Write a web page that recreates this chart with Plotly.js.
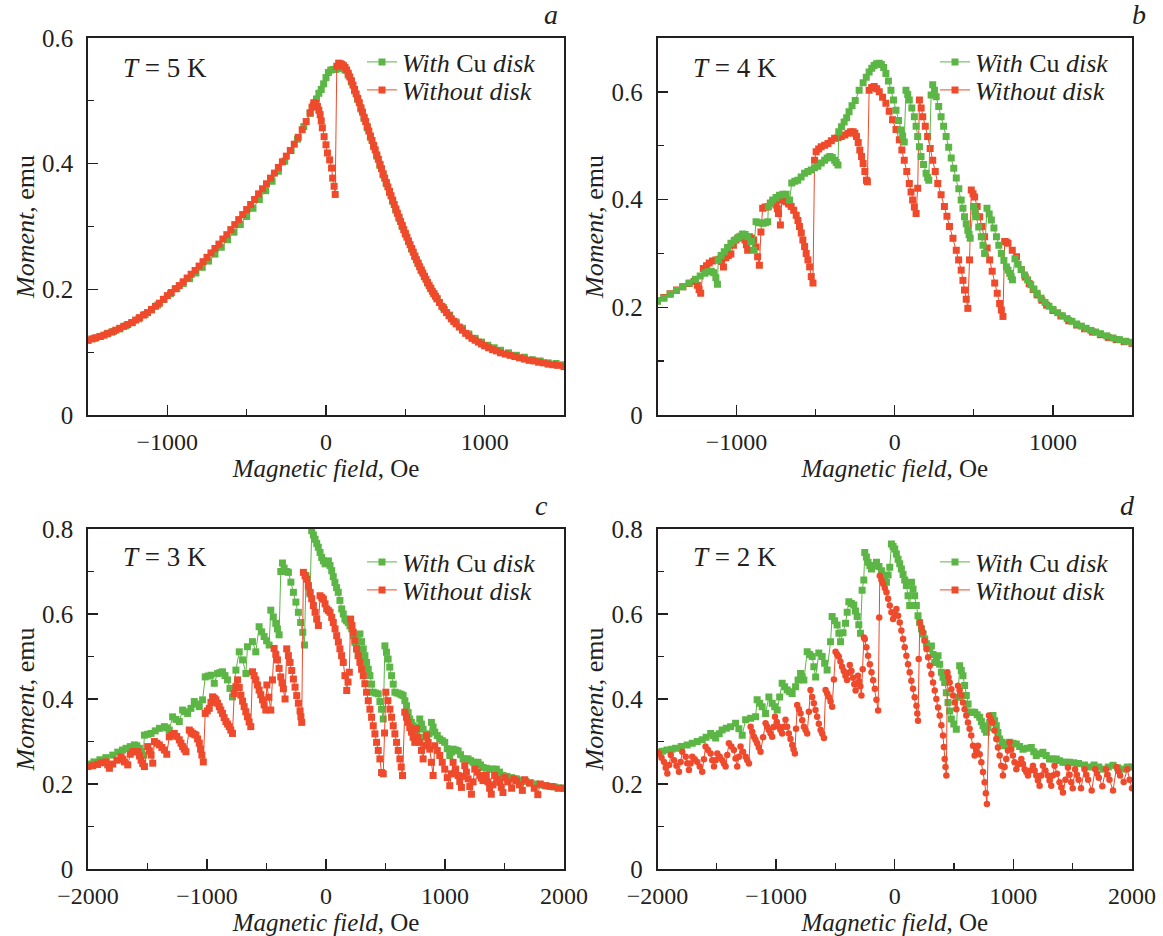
<!DOCTYPE html>
<html><head><meta charset="utf-8">
<script src="https://cdn.plot.ly/plotly-3.0.1.min.js"></script>
<style>html,body{margin:0;padding:0;background:#fff}#chart{width:1163px;height:936px}</style>
</head><body><div id="chart"></div>
<script>
// ---------- Panel a : T = 5 K ----------
const aGreen = [[-1500,.119],[-1460,.122],[-1420,.125],[-1380,.129],[-1340,.133],[-1300,.137],[-1260,.142],[-1220,.147],[-1180,.153],[-1140,.160],[-1100,.167],[-1060,.175],[-1020,.184],[-980,.193],[-940,.201],[-900,.209],[-860,.217],[-820,.226],[-780,.235],[-740,.245],[-700,.256],[-660,.267],[-620,.279],[-580,.291],[-540,.303],[-500,.316],[-460,.329],[-420,.343],[-380,.357],[-340,.372],[-300,.388],[-260,.404],[-220,.421],[-180,.439],[-140,.459],[-100,.480],[-80,.492],[-60,.503],[-45,.512],[-30,.518],[-15,.527],[0,.537],[15,.545],[30,.549],[45,.550],[60,.550],[75,.551],[90,.552],[105,.553],[120,.549],[140,.541],[160,.530],[180,.516],[200,.502],[220,.487],[240,.472],[260,.457],[280,.442],[300,.427],[320,.412],[340,.397],[360,.382],[380,.368],[400,.354],[420,.340],[440,.326],[460,.313],[480,.300],[500,.288],[520,.276],[540,.264],[560,.252],[580,.241],[600,.230],[620,.220],[640,.210],[660,.201],[680,.193],[700,.185],[740,.171],[780,.159],[820,.148],[860,.138],[900,.129],[940,.122],[980,.116],[1020,.111],[1060,.107],[1100,.103],[1150,.099],[1200,.095],[1250,.092],[1300,.088],[1350,.086],[1400,.083],[1450,.082],[1500,.080]];
const aRed = [[-1500,.119],[-1475,.121],[-1450,.123],[-1425,.125],[-1400,.127],[-1375,.130],[-1350,.132],[-1325,.135],[-1300,.138],[-1275,.141],[-1250,.144],[-1225,.147],[-1200,.151],[-1175,.155],[-1150,.159],[-1125,.163],[-1100,.168],[-1075,.173],[-1050,.178],[-1025,.184],[-1000,.190],[-975,.195],[-950,.201],[-925,.206],[-900,.212],[-875,.218],[-850,.224],[-825,.230],[-800,.237],[-775,.244],[-750,.251],[-725,.258],[-700,.265],[-675,.272],[-650,.280],[-625,.287],[-600,.295],[-575,.303],[-550,.311],[-525,.319],[-500,.327],[-475,.335],[-450,.343],[-425,.352],[-400,.360],[-375,.368],[-350,.377],[-325,.385],[-300,.394],[-275,.403],[-250,.412],[-225,.421],[-200,.431],[-175,.442],[-150,.454],[-125,.467],[-100,.481],[-88,.490],[-77,.497],[-65,.496],[-54,.491],[-45,.485],[-37,.478],[-30,.468],[-23,.457],[-12,.443],[0,.430],[9,.417],[23,.406],[35,.393],[42,.377],[51,.364],[58,.351],[68,.555],[80,.560],[90,.559],[100,.558],[110,.556],[120,.553],[130,.549],[140,.544],[150,.538],[160,.532],[170,.525],[180,.518],[190,.511],[200,.504],[210,.497],[220,.489],[230,.482],[240,.474],[250,.467],[260,.459],[270,.452],[280,.444],[290,.437],[300,.429],[310,.422],[320,.414],[330,.407],[340,.399],[350,.392],[360,.384],[370,.377],[380,.370],[390,.363],[400,.356],[410,.349],[420,.342],[430,.335],[440,.328],[450,.321],[460,.315],[470,.308],[480,.302],[490,.295],[500,.289],[510,.283],[520,.277],[530,.271],[540,.265],[550,.259],[560,.253],[570,.247],[580,.242],[590,.236],[600,.231],[610,.226],[620,.221],[630,.216],[640,.211],[650,.206],[660,.202],[670,.197],[680,.193],[690,.189],[700,.185],[715,.179],[730,.173],[745,.168],[760,.163],[775,.158],[790,.153],[805,.149],[820,.145],[840,.140],[860,.135],[880,.130],[900,.126],[920,.122],[940,.119],[960,.116],[980,.113],[1000,.110],[1025,.107],[1050,.104],[1075,.102],[1100,.099],[1130,.097],[1160,.095],[1190,.093],[1220,.091],[1250,.089],[1280,.087],[1310,.086],[1340,.084],[1370,.083],[1400,.081],[1430,.080],[1460,.079],[1500,.077]];

// ---------- Panel b : T = 4 K ----------
const bGreen = [[-1500,.211],[-1460,.217],[-1420,.224],[-1380,.231],[-1340,.238],[-1300,.245],[-1260,.252],[-1230,.258],[-1200,.263],[-1180,.266],[-1160,.267],[-1145,.264],[-1131,.255],[-1121,.243],[-1116,.288],[-1098,.296],[-1078,.303],[-1057,.311],[-1036,.319],[-1015,.324],[-994,.328],[-978,.332],[-962,.336],[-946,.335],[-930,.331],[-909,.322],[-892,.306],[-877,.359],[-856,.357],[-835,.356],[-818,.357],[-803,.359],[-799,.387],[-785,.393],[-771,.399],[-750,.404],[-729,.408],[-708,.41],[-687,.41],[-665,.399],[-651,.431],[-632,.434],[-613,.436],[-592,.442],[-570,.449],[-549,.452],[-528,.455],[-507,.459],[-486,.462],[-465,.468],[-443,.473],[-427,.477],[-411,.480],[-395,.478],[-380,.473],[-370,.469],[-359,.464],[-354,.526],[-337,.535],[-320,.544],[-304,.552],[-289,.563],[-270,.574],[-250,.584],[-225,.603],[-200,.617],[-180,.627],[-162,.637],[-145,.644],[-130,.649],[-115,.652],[-98,.653],[-85,.651],[-70,.645],[-56,.634],[-40,.62],[-24,.603],[-8,.585],[8,.566],[24,.547],[39,.529],[50,.518],[60,.507],[71,.603],[82,.595],[92,.585],[108,.57],[124,.554],[135,.536],[145,.517],[156,.498],[166,.48],[182,.465],[198,.449],[208,.441],[215,.436],[230,.594],[240,.613],[251,.603],[262,.591],[278,.573],[293,.554],[309,.536],[325,.517],[341,.497],[357,.477],[373,.458],[389,.44],[405,.42],[420,.399],[431,.384],[441,.368],[452,.355],[462,.343],[470,.335],[477,.328],[498,.387],[507,.378],[516,.368],[531,.349],[547,.331],[558,.315],[568,.30],[583,.384],[597,.373],[611,.362],[627,.347],[643,.331],[658,.315],[674,.30],[690,.287],[706,.275],[716,.269],[727,.263],[736,.257],[744,.251],[760,.290],[780,.280],[800,.270],[820,.26],[840,.251],[860,.242],[880,.234],[900,.226],[925,.217],[950,.209],[975,.202],[1000,.196],[1030,.190],[1060,.184],[1090,.179],[1120,.174],[1150,.169],[1180,.165],[1210,.161],[1240,.157],[1270,.154],[1300,.151],[1340,.147],[1380,.143],[1420,.140],[1460,.137],[1500,.135]];
const bRed = [[-1500,.212],[-1460,.218],[-1420,.225],[-1380,.232],[-1340,.238],[-1300,.244],[-1269,.248],[-1248,.241],[-1237,.233],[-1227,.226],[-1210,.272],[-1190,.277],[-1173,.282],[-1152,.286],[-1131,.288],[-1110,.289],[-1095,.285],[-1083,.275],[-1068,.292],[-1052,.296],[-1036,.299],[-1020,.315],[-1004,.325],[-988,.329],[-973,.331],[-960,.329],[-947,.325],[-938,.316],[-930,.306],[-919,.331],[-905,.328],[-892,.325],[-877,.312],[-867,.294],[-856,.278],[-846,.34],[-835,.384],[-819,.386],[-803,.386],[-787,.393],[-771,.396],[-760,.394],[-750,.39],[-742,.383],[-735,.374],[-723,.353],[-714,.399],[-700,.398],[-687,.396],[-671,.392],[-655,.387],[-639,.380],[-623,.371],[-612,.361],[-602,.35],[-591,.338],[-581,.325],[-570,.313],[-560,.3],[-549,.288],[-538,.275],[-528,.257],[-517,.245],[-507,.473],[-497,.489],[-481,.494],[-465,.498],[-443,.501],[-422,.504],[-401,.509],[-380,.514],[-359,.515],[-338,.517],[-316,.520],[-295,.523],[-279,.526],[-263,.526],[-252,.523],[-242,.517],[-231,.506],[-221,.492],[-210,.48],[-200,.467],[-189,.452],[-179,.436],[-173,.433],[-162,.603],[-146,.608],[-130,.61],[-114,.606],[-98,.60],[-77,.59],[-56,.579],[-35,.564],[-14,.548],[8,.530],[29,.511],[45,.492],[60,.473],[76,.452],[92,.43],[103,.414],[113,.399],[124,.386],[135,.374],[145,.421],[156,.585],[167,.570],[177,.554],[193,.536],[208,.517],[224,.495],[240,.473],[256,.452],[272,.43],[293,.409],[314,.387],[330,.369],[346,.35],[368,.328],[389,.306],[404,.288],[420,.269],[431,.25],[441,.232],[452,.215],[462,.198],[473,.288],[484,.418],[495,.411],[505,.405],[521,.387],[537,.368],[552,.350],[568,.331],[584,.310],[600,.288],[616,.267],[632,.245],[648,.226],[663,.207],[674,.195],[684,.183],[695,.322],[705,.321],[716,.319],[743,.306],[770,.294],[800,.27],[825,.256],[850,.244],[875,.233],[900,.223],[930,.213],[960,.204],[1000,.194],[1050,.184],[1100,.175],[1150,.167],[1200,.160],[1250,.154],[1300,.149],[1350,.144],[1400,.140],[1450,.136],[1500,.133]];

// ---------- Panel c : T = 3 K ----------
const cGreen = [[-2000,.247],[-1950,.252],[-1900,.257],[-1850,.262],[-1792,.268],[-1750,.275],[-1710,.280],[-1680,.284],[-1645,.288],[-1610,.292],[-1590,.29],[-1568,.284],[-1550,.276],[-1535,.268],[-1526,.315],[-1498,.317],[-1470,.319],[-1435,.325],[-1400,.331],[-1358,.335],[-1338,.332],[-1317,.327],[-1289,.358],[-1261,.352],[-1233,.347],[-1205,.374],[-1184,.370],[-1163,.366],[-1135,.378],[-1107,.394],[-1086,.388],[-1065,.382],[-1037,.398],[-1015,.452],[-991,.454],[-967,.456],[-939,.437],[-911,.46],[-890,.462],[-870,.464],[-849,.455],[-828,.445],[-807,.425],[-786,.405],[-757,.468],[-729,.511],[-701,.492],[-673,.46],[-660,.523],[-618,.535],[-590,.511],[-562,.57],[-541,.558],[-520,.547],[-499,.537],[-478,.527],[-464,.609],[-443,.593],[-422,.578],[-408,.565],[-394,.551],[-380,.70],[-366,.72],[-352,.708],[-330,.70],[-316,.698],[-295,.675],[-274,.651],[-253,.628],[-232,.604],[-213,.58],[-195,.557],[-181,.527],[-168,.69],[-148,.663],[-134,.647],[-120,.796],[-106,.786],[-92,.776],[-78,.766],[-65,.757],[-50,.745],[-36,.733],[-22,.725],[-8,.718],[6,.722],[20,.725],[34,.714],[48,.702],[61,.688],[75,.674],[89,.662],[103,.651],[117,.632],[132,.612],[145,.60],[159,.588],[173,.584],[187,.58],[201,.572],[216,.565],[229,.549],[243,.533],[257,.518],[271,.502],[285,.553],[299,.535],[313,.518],[327,.502],[341,.486],[355,.47],[369,.455],[383,.435],[397,.416],[418,.414],[439,.412],[453,.394],[467,.376],[481,.353],[495,.525],[508,.51],[522,.494],[536,.475],[551,.455],[565,.435],[579,.416],[600,.414],[621,.412],[635,.41],[648,.408],[663,.396],[677,.384],[690,.368],[704,.353],[718,.345],[732,.337],[746,.325],[760,.314],[774,.334],[788,.353],[802,.341],[816,.329],[830,.31],[845,.29],[865,.318],[886,.345],[900,.334],[914,.322],[935,.314],[956,.306],[977,.302],[998,.298],[1019,.283],[1040,.267],[1054,.275],[1068,.282],[1089,.280],[1110,.278],[1131,.269],[1152,.259],[1173,.259],[1194,.259],[1215,.255],[1236,.251],[1257,.251],[1278,.251],[1298,.245],[1319,.239],[1347,.237],[1375,.235],[1403,.235],[1431,.235],[1459,.228],[1487,.22],[1520,.218],[1560,.215],[1600,.212],[1640,.209],[1680,.206],[1720,.203],[1760,.2],[1800,.198],[1840,.196],[1880,.194],[1920,.193],[1960,.191],[2000,.19]];
const cRed = [[-2000,.241],[-1960,.243],[-1920,.246],[-1890,.25],[-1848,.252],[-1834,.245],[-1820,.237],[-1792,.247],[-1757,.256],[-1722,.264],[-1708,.258],[-1694,.252],[-1666,.245],[-1645,.27],[-1624,.276],[-1603,.276],[-1582,.276],[-1568,.266],[-1554,.256],[-1540,.248],[-1526,.241],[-1498,.288],[-1484,.278],[-1470,.268],[-1456,.249],[-1442,.3],[-1421,.296],[-1400,.292],[-1379,.286],[-1358,.28],[-1338,.27],[-1317,.311],[-1296,.315],[-1275,.319],[-1254,.312],[-1233,.304],[-1219,.296],[-1205,.288],[-1191,.282],[-1177,.276],[-1149,.327],[-1135,.323],[-1121,.319],[-1107,.317],[-1093,.315],[-1079,.306],[-1065,.296],[-1054,.282],[-1043,.268],[-1031,.252],[-1015,.366],[-998,.372],[-981,.378],[-967,.392],[-953,.405],[-939,.402],[-925,.398],[-911,.39],[-897,.382],[-884,.374],[-870,.366],[-856,.356],[-841,.347],[-827,.341],[-813,.335],[-800,.327],[-786,.319],[-771,.413],[-757,.429],[-743,.445],[-729,.427],[-715,.409],[-701,.395],[-688,.382],[-674,.37],[-660,.358],[-646,.346],[-632,.335],[-618,.464],[-604,.455],[-590,.445],[-576,.433],[-562,.421],[-548,.41],[-534,.398],[-520,.386],[-506,.374],[-497,.433],[-480,.404],[-464,.374],[-450,.445],[-436,.519],[-422,.505],[-408,.492],[-394,.472],[-380,.452],[-369,.438],[-358,.424],[-344,.40],[-330,.518],[-316,.502],[-302,.486],[-288,.467],[-274,.447],[-260,.428],[-246,.408],[-232,.39],[-218,.372],[-211,.358],[-204,.345],[-190,.698],[-176,.69],[-162,.682],[-148,.667],[-134,.651],[-120,.636],[-106,.62],[-92,.604],[-78,.588],[-64,.573],[-50,.643],[-36,.639],[-22,.635],[-8,.624],[6,.612],[20,.608],[34,.604],[48,.592],[61,.58],[76,.565],[90,.549],[104,.534],[117,.518],[131,.502],[145,.486],[159,.455],[174,.42],[185,.44],[196,.463],[207,.588],[218,.573],[229,.557],[243,.538],[257,.518],[271,.502],[285,.486],[299,.47],[313,.455],[327,.436],[341,.416],[355,.396],[369,.376],[383,.357],[397,.337],[411,.318],[425,.298],[439,.279],[453,.259],[467,.227],[481,.224],[492,.32],[503,.416],[520,.396],[537,.376],[551,.357],[565,.337],[579,.318],[593,.298],[607,.279],[621,.259],[632,.24],[643,.22],[662,.369],[676,.357],[690,.345],[704,.333],[718,.322],[732,.31],[746,.298],[760,.33],[774,.31],[788,.298],[802,.279],[816,.259],[830,.29],[845,.314],[858,.298],[872,.282],[886,.251],[900,.22],[914,.29],[935,.279],[956,.267],[977,.251],[998,.235],[1019,.215],[1040,.196],[1054,.224],[1068,.251],[1089,.235],[1110,.22],[1124,.206],[1138,.192],[1152,.218],[1166,.243],[1180,.228],[1194,.212],[1208,.194],[1222,.176],[1236,.205],[1250,.235],[1271,.228],[1292,.22],[1306,.214],[1319,.208],[1333,.214],[1347,.22],[1361,.205],[1375,.19],[1389,.176],[1403,.198],[1417,.22],[1438,.212],[1459,.204],[1473,.192],[1487,.18],[1503,.215],[1530,.205],[1560,.19],[1580,.212],[1600,.207],[1625,.198],[1650,.185],[1670,.21],[1710,.202],[1750,.19],[1780,.175],[1800,.2],[1850,.196],[1900,.194],[1950,.19],[2000,.19]];

// ---------- Panel d : T = 2 K ----------
const dGreen = [[-2000,.275],[-1960,.277],[-1920,.28],[-1880,.282],[-1847,.284],[-1800,.288],[-1750,.292],[-1707,.296],[-1665,.300],[-1623,.304],[-1590,.31],[-1552,.319],[-1530,.314],[-1510,.308],[-1480,.318],[-1455,.327],[-1420,.331],[-1384,.335],[-1342,.343],[-1314,.33],[-1286,.315],[-1257,.351],[-1215,.355],[-1173,.358],[-1160,.398],[-1139,.39],[-1118,.382],[-1089,.366],[-1061,.405],[-1033,.39],[-1012,.382],[-991,.374],[-970,.405],[-949,.437],[-928,.429],[-907,.421],[-886,.417],[-865,.413],[-836,.429],[-815,.445],[-794,.46],[-780,.452],[-766,.445],[-738,.511],[-717,.505],[-696,.5],[-682,.476],[-667,.452],[-640,.508],[-612,.5],[-591,.484],[-570,.468],[-541,.535],[-528,.594],[-507,.584],[-486,.574],[-471,.555],[-457,.535],[-436,.556],[-415,.578],[-401,.604],[-387,.629],[-366,.625],[-345,.621],[-331,.607],[-317,.594],[-303,.575],[-289,.555],[-275,.656],[-261,.68],[-253,.745],[-239,.734],[-225,.722],[-210,.714],[-196,.706],[-175,.714],[-154,.722],[-133,.712],[-112,.702],[-91,.688],[-70,.675],[-56,.692],[-42,.71],[-28,.765],[-14,.759],[0,.753],[14,.741],[28,.729],[42,.718],[56,.706],[70,.693],[84,.68],[98,.667],[112,.643],[126,.62],[141,.675],[154,.659],[168,.643],[182,.62],[196,.596],[210,.58],[225,.565],[239,.553],[253,.541],[267,.53],[280,.518],[295,.521],[309,.525],[323,.505],[337,.486],[351,.494],[365,.502],[379,.482],[393,.463],[407,.451],[421,.439],[435,.415],[449,.392],[463,.372],[477,.353],[498,.341],[519,.329],[533,.404],[547,.478],[561,.467],[575,.455],[589,.432],[603,.408],[618,.388],[632,.369],[653,.369],[674,.369],[695,.363],[716,.357],[730,.347],[744,.337],[758,.329],[772,.322],[786,.333],[800,.345],[814,.353],[828,.361],[842,.349],[856,.337],[870,.321],[884,.306],[905,.298],[926,.29],[947,.294],[968,.298],[997,.296],[1025,.294],[1053,.288],[1081,.282],[1116,.284],[1151,.286],[1172,.276],[1193,.267],[1221,.271],[1249,.275],[1277,.267],[1305,.259],[1333,.259],[1362,.259],[1390,.255],[1418,.251],[1446,.251],[1474,.251],[1510,.25],[1550,.248],[1600,.245],[1640,.24],[1680,.245],[1720,.24],[1760,.235],[1800,.24],[1840,.244],[1880,.238],[1920,.235],[1960,.24],[2000,.24]];
const dRed = [[-2000,.275],[-1987,.272],[-1966,.262],[-1945,.252],[-1931,.238],[-1917,.225],[-1902,.245],[-1888,.268],[-1861,.256],[-1840,.243],[-1819,.229],[-1805,.252],[-1791,.276],[-1762,.264],[-1749,.249],[-1735,.233],[-1721,.248],[-1707,.264],[-1686,.258],[-1665,.252],[-1644,.241],[-1623,.229],[-1609,.258],[-1595,.288],[-1574,.28],[-1552,.272],[-1538,.256],[-1524,.241],[-1510,.256],[-1496,.272],[-1475,.264],[-1454,.256],[-1440,.248],[-1426,.241],[-1412,.268],[-1398,.296],[-1377,.288],[-1356,.28],[-1342,.26],[-1328,.241],[-1314,.264],[-1300,.288],[-1279,.276],[-1257,.264],[-1243,.256],[-1229,.248],[-1215,.335],[-1201,.323],[-1187,.311],[-1174,.304],[-1160,.296],[-1146,.286],[-1131,.276],[-1110,.31],[-1089,.343],[-1075,.335],[-1061,.327],[-1047,.319],[-1033,.311],[-1021,.334],[-1010,.358],[-994,.346],[-977,.335],[-963,.327],[-949,.319],[-935,.335],[-921,.351],[-907,.335],[-893,.319],[-879,.306],[-864,.292],[-853,.282],[-842,.272],[-832,.33],[-822,.386],[-808,.376],[-794,.366],[-780,.35],[-766,.335],[-752,.327],[-738,.319],[-724,.37],[-710,.421],[-696,.405],[-682,.39],[-668,.374],[-654,.358],[-640,.342],[-625,.327],[-611,.318],[-597,.308],[-583,.421],[-569,.413],[-555,.405],[-541,.394],[-528,.382],[-513,.446],[-499,.511],[-486,.505],[-472,.5],[-458,.488],[-444,.476],[-430,.466],[-416,.455],[-402,.445],[-388,.462],[-379,.48],[-365,.466],[-352,.45],[-341,.435],[-330,.42],[-320,.437],[-310,.455],[-300,.442],[-290,.43],[-281,.408],[-270,.47],[-260,.545],[-253,.541],[-239,.522],[-225,.502],[-210,.482],[-196,.463],[-182,.444],[-168,.424],[-154,.398],[-140,.373],[-131,.592],[-126,.69],[-112,.68],[-98,.671],[-84,.661],[-70,.651],[-56,.636],[-42,.62],[-28,.604],[-14,.588],[0,.600],[14,.612],[28,.596],[42,.58],[56,.561],[70,.541],[84,.522],[98,.502],[112,.482],[126,.463],[140,.443],[154,.424],[168,.404],[183,.384],[190,.366],[196,.349],[202,.494],[211,.58],[224,.569],[238,.557],[252,.537],[267,.518],[281,.498],[295,.478],[309,.459],[323,.439],[337,.42],[351,.40],[365,.38],[379,.361],[393,.338],[407,.314],[414,.287],[421,.259],[428,.24],[435,.22],[444,.463],[453,.451],[463,.439],[477,.423],[491,.408],[505,.392],[519,.376],[533,.431],[547,.42],[561,.408],[575,.392],[589,.376],[603,.361],[617,.345],[631,.33],[645,.314],[660,.29],[674,.267],[688,.279],[702,.29],[716,.27],[730,.251],[744,.228],[758,.204],[768,.178],[777,.153],[794,.361],[808,.353],[823,.345],[840,.326],[856,.306],[870,.286],[884,.267],[898,.243],[912,.22],[926,.24],[940,.259],[954,.279],[968,.298],[982,.282],[996,.267],[1010,.251],[1025,.235],[1046,.247],[1067,.259],[1081,.247],[1095,.235],[1109,.228],[1123,.22],[1144,.232],[1165,.243],[1179,.232],[1193,.22],[1207,.208],[1221,.196],[1235,.22],[1249,.243],[1270,.232],[1291,.22],[1305,.208],[1319,.196],[1333,.22],[1347,.243],[1368,.224],[1389,.204],[1404,.192],[1418,.18],[1439,.21],[1460,.239],[1474,.222],[1488,.204],[1500,.19],[1520,.235],[1535,.222],[1550,.21],[1570,.19],[1600,.235],[1615,.222],[1630,.21],[1660,.185],[1690,.235],[1705,.225],[1720,.215],[1750,.195],[1780,.235],[1795,.222],[1810,.21],[1840,.185],[1870,.24],[1885,.23],[1900,.22],[1930,.205],[1960,.235],[1980,.21],[2000,.19]];

// ---------- text ----------
const seriesNames = ['<i>With</i> Cu <i>disk</i>', '<i>Without disk</i>'];
const tempLabels = ['<i>T</i> = 5 K', '<i>T</i> = 4 K', '<i>T</i> = 3 K', '<i>T</i> = 2 K'];
const panelLetters = ['a', 'b', 'c', 'd'];
const xTitle = '<i>Magnetic field</i>, Oe';
const yTitle = '<i>Moment</i>, emu';

const GREEN = '#5cb646', RED = '#ee4a2b', INK = '#231f20';
const FONT = 'Liberation Serif, Times New Roman, serif';

function trace(pairs, color, name, n, legendName, symbol, size, showlegend) {
  const s = n === 1 ? '' : String(n);
  return {
    x: pairs.map(p => p[0]), y: pairs.map(p => p[1]),
    type: 'scatter', mode: 'lines+markers', name: name,
    xaxis: 'x' + s, yaxis: 'y' + s, legend: legendName,
    line: {color: color, width: 1},
    marker: {symbol: symbol, size: size, color: color, line: {width: 0}},
    showlegend: showlegend, hoverinfo: 'skip'
  };
}
function legendOnly(color, name, n, legendName) {
  const s = n === 1 ? '' : String(n);
  return {x: [null], y: [null], type: 'scatter', mode: 'lines+markers', name: name,
    xaxis: 'x' + s, yaxis: 'y' + s, legend: legendName, showlegend: true,
    line: {color: color, width: 1}, marker: {symbol: 'square', size: 7, color: color}};
}

const traces = [
  trace(aGreen, GREEN, seriesNames[0], 1, 'legend', 'square', 7, true),
  trace(aRed, RED, seriesNames[1], 1, 'legend2', 'square', 7, true),
  trace(bRed, RED, seriesNames[1], 2, 'legend4', 'square', 7, true),
  trace(bGreen, GREEN, seriesNames[0], 2, 'legend3', 'square', 7, true),
  trace(cGreen, GREEN, seriesNames[0], 3, 'legend5', 'square', 7, true),
  trace(cRed, RED, seriesNames[1], 3, 'legend6', 'square', 7, true),
  trace(dGreen, GREEN, seriesNames[0], 4, 'legend7', 'square', 7, true),
  trace(dRed, RED, seriesNames[1], 4, 'legend8', 'circle', 6.5, false),
  legendOnly(RED, seriesNames[1], 4, 'legend8')
];

const W = 1163, H = 936;
const px = v => v / W, py = v => 1 - v / H;
const colA = [px(88), px(564)], colB = [px(657.5), px(1132)];
const rowTop = [py(415), py(38)], rowBot = [py(869), py(529)];

function xax(dom, range, anchor) {
  return {domain: dom, range: range, anchor: anchor, tickmode: 'linear', tick0: 0, dtick: 1000,
    ticks: 'inside', ticklen: 10, tickwidth: 1.3, tickcolor: INK,
    minor: {dtick: 500, tick0: 0, ticks: 'inside', ticklen: 6, tickwidth: 1.3, tickcolor: INK},
    showline: true, mirror: true, linecolor: INK, linewidth: 1.8,
    showgrid: false, zeroline: false, automargin: false, fixedrange: true,
    ticklabelstandoff: 4, tickfont: {family: FONT, size: 24, color: INK},
    title: {text: xTitle, font: {family: FONT, size: 25, color: INK}, standoff: 1}};
}
function yax(dom, range, anchor) {
  return {domain: dom, range: range, anchor: anchor, tickmode: 'linear', tick0: 0, dtick: 0.2,
    ticks: 'inside', ticklen: 10, tickwidth: 1.3, tickcolor: INK,
    minor: {dtick: 0.1, tick0: 0, ticks: 'inside', ticklen: 6, tickwidth: 1.3, tickcolor: INK},
    showline: true, mirror: true, linecolor: INK, linewidth: 1.8,
    showgrid: false, zeroline: false, automargin: false, fixedrange: true,
    ticklabelstandoff: 8, tickfont: {family: FONT, size: 25, color: INK},
    title: {text: yTitle, font: {family: FONT, size: 26, color: INK}, standoff: 0}};
}
function leg(x, yMid) {
  return {x: px(x), y: py(yMid), xanchor: 'left', yanchor: 'middle', bgcolor: 'rgba(0,0,0,0)',
    borderwidth: 0, font: {family: FONT, size: 26, color: INK}, itemwidth: 30, tracegroupgap: 0};
}

const annotations = [];
const tPos = [[121, 68], [691, 68], [121, 557], [691, 557]];
const lPos = [[551, 15], [1139, 15], [541, 505], [1127, 505]];
for (let i = 0; i < 4; i++) {
  annotations.push({xref: 'paper', yref: 'paper', x: px(tPos[i][0]), y: py(tPos[i][1]), xanchor: 'left', yanchor: 'middle',
    text: tempLabels[i], showarrow: false, font: {family: FONT, size: 27, color: INK}});
  annotations.push({xref: 'paper', yref: 'paper', x: px(lPos[i][0]), y: py(lPos[i][1]), xanchor: 'center', yanchor: 'middle',
    text: '<i>' + panelLetters[i] + '</i>', showarrow: false, font: {family: FONT, size: 28, color: INK}});
}

const layout = {
  width: W, height: H, autosize: false, margin: {l: 0, r: 0, t: 0, b: 0},
  paper_bgcolor: '#fff', plot_bgcolor: '#fff', font: {family: FONT, color: INK},
  xaxis: xax(colA, [-1500, 1500], 'y'), yaxis: yax(rowTop, [0, 0.6], 'x'),
  xaxis2: xax(colB, [-1500, 1500], 'y2'), yaxis2: yax(rowTop, [0, 0.7], 'x2'),
  xaxis3: xax(colA, [-2000, 2000], 'y3'), yaxis3: yax(rowBot, [0, 0.8], 'x3'),
  xaxis4: xax(colB, [-2000, 2000], 'y4'), yaxis4: yax(rowBot, [0, 0.8], 'x4'),
  legend: leg(362, 62), legend2: leg(362, 90),
  legend3: leg(935, 62), legend4: leg(935, 90),
  legend5: leg(362, 562), legend6: leg(362, 590),
  legend7: leg(935, 562), legend8: leg(935, 590),
  annotations: annotations, showlegend: true
};

Plotly.newPlot('chart', traces, layout, {staticPlot: true, displayModeBar: false});
</script>
</body></html>
